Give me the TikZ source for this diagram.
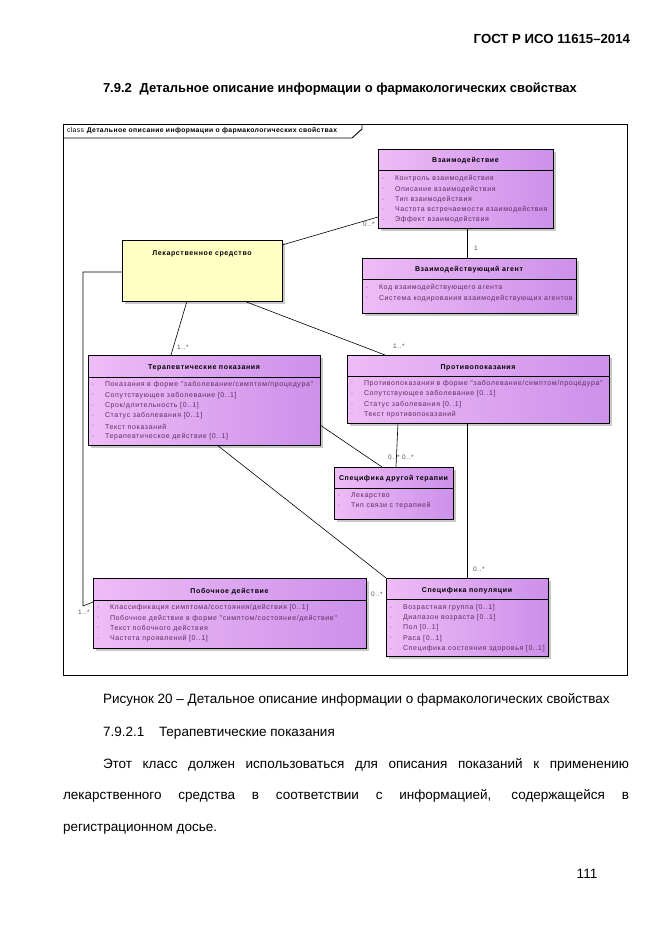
\documentclass[tikz,border=0pt]{standalone}
\usepackage{fontspec}
\setmainfont{Liberation Sans}
\newfontfamily\dgf[LetterSpace=9]{Liberation Sans}
\newfontfamily\tabf[LetterSpace=6]{Liberation Sans}
\usetikzlibrary{calc}
\definecolor{boxl}{RGB}{238,188,246}
\definecolor{boxr}{RGB}{204,144,234}
\definecolor{lekfill}{RGB}{255,255,196}
\definecolor{shadowgray}{RGB}{200,200,200}
\definecolor{attrcol}{RGB}{95,45,95}
\definecolor{markcol}{RGB}{170,110,170}
\definecolor{multcol}{RGB}{85,85,85}
\newcommand\umlbox[6]{%
  \fill[shadowgray] ({#2+3},{#3+3}) rectangle ({#4+3},{#5+3});
  \node[classbox, minimum width={(#4-#2)*1pt}, minimum height={(#5-#3)*1pt}] (#1) at (#2,#3) {};
  \draw[line width=0.8pt] (#1.west |- 0,#6) -- (#1.east |- 0,#6);
}
\newcommand\attr[3]{%
  \node[cmark] at ($(#1.west |- 0,#2)+(5,0)$) {-};
  \node[cattr] at ($(#1.west |- 0,#2)+(17,0)$) {#3};
}
\begin{document}
\begin{tikzpicture}[x=1pt,y=-1pt,
  every node/.style={inner sep=0pt, outer sep=0pt},
  classbox/.style={draw=black, line width=0.8pt, left color=boxl, right color=boxr, anchor=north west},
  lekbox/.style={draw=black, line width=0.8pt, fill=lekfill, anchor=north west},
  ctitle/.style={font=\dgf\bfseries\fontsize{7}{8}\selectfont, text=black},
  cattr/.style={font=\dgf\fontsize{7}{8}\selectfont, text=attrcol, anchor=west},
  cmark/.style={font=\dgf\fontsize{7}{8}\selectfont, text=markcol},
  mult/.style={font=\dgf\fontsize{6.5}{7}\selectfont, text=multcol},
  conn/.style={draw=black, line width=0.6pt},
  body/.style={font=\fontsize{13.5}{16}\selectfont, anchor=base west},
]
\useasboundingbox[fill=white] (0,0) rectangle (661,935);

% page texts
\node[font=\bfseries\fontsize{13.2}{16}\selectfont, anchor=base east] (hdr) at (630,43) {ГОСТ Р ИСО 11615–2014};
\node[font=\bfseries\fontsize{13}{16}\selectfont, anchor=base west] (sect) at (103,92) {7.9.2\hspace{0.6em}Детальное описание информации о фармакологических свойствах};

% frame
\draw[line width=0.9pt] (63,124) rectangle (627,675);
\draw[line width=0.9pt] (63,138) -- (352,138) -- (362,129) -- (362,124);
\node[font=\tabf\fontsize{6.8}{8}\selectfont, anchor=west] (frm) at (67,131) {class \textbf{Детальное описание информации о фармакологических свойствах}};

% Лекарственное средство
\fill[shadowgray] (125,243) rectangle (285,304);
\node[lekbox, minimum width=160pt, minimum height=61pt] (lek) at (122,240) {};
\node[ctitle] (lekt) at (202,253.5) {Лекарственное средство};

% Взаимодействие
\umlbox{vz}{378}{149}{553}{228}{170}
\node[ctitle] (vzt) at (465.5,160.5) {Взаимодействие};
\attr{vz}{179}{Контроль взаимодействия}
\attr{vz}{189.5}{Описание взаимодействия}
\attr{vz}{200}{Тип взаимодействия}
\attr{vz}{210}{Частота встречаемости взаимодействия}
\attr{vz}{220}{Эффект взаимодействия}

% Взаимодействующий агент
\umlbox{ag}{362}{258}{576}{313}{279}
\node[ctitle] (agt) at (469,270) {Взаимодействующий агент};
\attr{ag}{288}{Код взаимодействующего агента}
\attr{ag}{298.5}{Система кодирования взаимодействующих агентов}

% Терапевтические показания
\umlbox{tp}{88}{355}{320}{445}{377}
\node[ctitle] (tpt) at (204,368) {Терапевтические показания};
\attr{tp}{385}{Показания в форме "заболевание/симптом/процедура"}
\attr{tp}{395.5}{Сопутствующее заболевание [0..1]}
\attr{tp}{406}{Срок/длительность [0..1]}
\attr{tp}{416}{Статус заболевания [0..1]}
\attr{tp}{426.5}{Текст показаний}
\attr{tp}{437}{Терапевтическое действие [0..1]}

% Противопоказания
\umlbox{pp}{347}{355}{609}{423}{376}
\node[ctitle] (ppt) at (478,367.5) {Противопоказания};
\attr{pp}{383.5}{Противопоказания в форме "заболевание/симптом/процедура"}
\attr{pp}{394}{Сопутствующее заболевание [0..1]}
\attr{pp}{404.5}{Статус заболевания [0..1]}
\attr{pp}{414.5}{Текст противопоказаний}

% Специфика другой терапии
\umlbox{sdt}{334}{467}{453}{519}{488}
\node[ctitle] (sdtt) at (393.5,479) {Специфика другой терапии};
\attr{sdt}{496}{Лекарство}
\attr{sdt}{506}{Тип связи с терапией}

% Побочное действие
\umlbox{pd}{93}{578}{366}{648}{600}
\node[ctitle] (pdt) at (229.5,591.5) {Побочное действие};
\attr{pd}{608}{Классификация симптома/состояния/действия [0..1]}
\attr{pd}{618.5}{Побочное действие в форме "симптом/состояние/действие"}
\attr{pd}{628.5}{Текст побочного действия}
\attr{pd}{639}{Частота проявлений [0..1]}

% Специфика популяции
\umlbox{sp}{386}{578}{548}{656}{599}
\node[ctitle] (spt) at (467,591) {Специфика популяции};
\attr{sp}{608}{Возрастная группа [0..1]}
\attr{sp}{618}{Диапазон возраста [0..1]}
\attr{sp}{628}{Пол [0..1]}
\attr{sp}{638.5}{Раса [0..1]}
\attr{sp}{649}{Специфика состояния здоровья [0..1]}

% connectors
\draw[conn] (lek.east |- 0,245) -- (vz.west |- 0,217);
\draw[conn] (vz.south -| 467,0) -- (ag.north -| 467,0);
\draw[conn] (lek.west |- 0,272) -| (83,606) -- (pd.west |- 0,602);
\draw[conn] (lek.south -| 187,0) -- (tp.north -| 171,0);
\draw[conn] (lek.south -| 244,0) -- (pp.north -| 385,0);
\draw[conn] (pp.south -| 398,0) -- (sdt.north -| 396,0);
\draw[conn] (tp.east |- 0,425) -- (sdt.north -| 382,0);
\draw[conn] (tp.south -| 217,0) -- (sp.north west);
\draw[conn] (pp.south -| 467,0) -- (sp.north -| 467,0);

% multiplicities
\node[mult] (m1) at (369,224.5) {0..*};
\node[mult] (m2) at (476,248) {1};
\node[mult] (m3) at (84,612) {1..*};
\node[mult] (m4) at (183,347) {1..*};
\node[mult] (m5) at (399,346) {1..*};
\node[mult] (m6) at (394,457) {0..*};
\node[mult] (m7) at (408,457) {0..*};
\node[mult] (m8) at (377,594) {0..*};
\node[mult] (m9) at (479,569) {0..*};

% body text
\node[body] (cap) at (103,703) {Рисунок 20 – Детальное описание информации о фармакологических свойствах};
\node[body] (sub1) at (103,736) {7.9.2.1};
\node[body] (sub2) at (159,736) {Терапевтические показания};
\node[body] (p1) at (103,768) {\makebox[526pt][s]{Этот класс должен использоваться для описания показаний к применению}};
\node[body] (p2) at (63,799) {\makebox[566pt][s]{лекарственного средства в соответствии с информацией, содержащейся в}};
\node[body] (p3) at (63,831) {регистрационном досье.};
\node[body, anchor=base] (pg) at (587,878) {111};
\end{tikzpicture}
\end{document}
